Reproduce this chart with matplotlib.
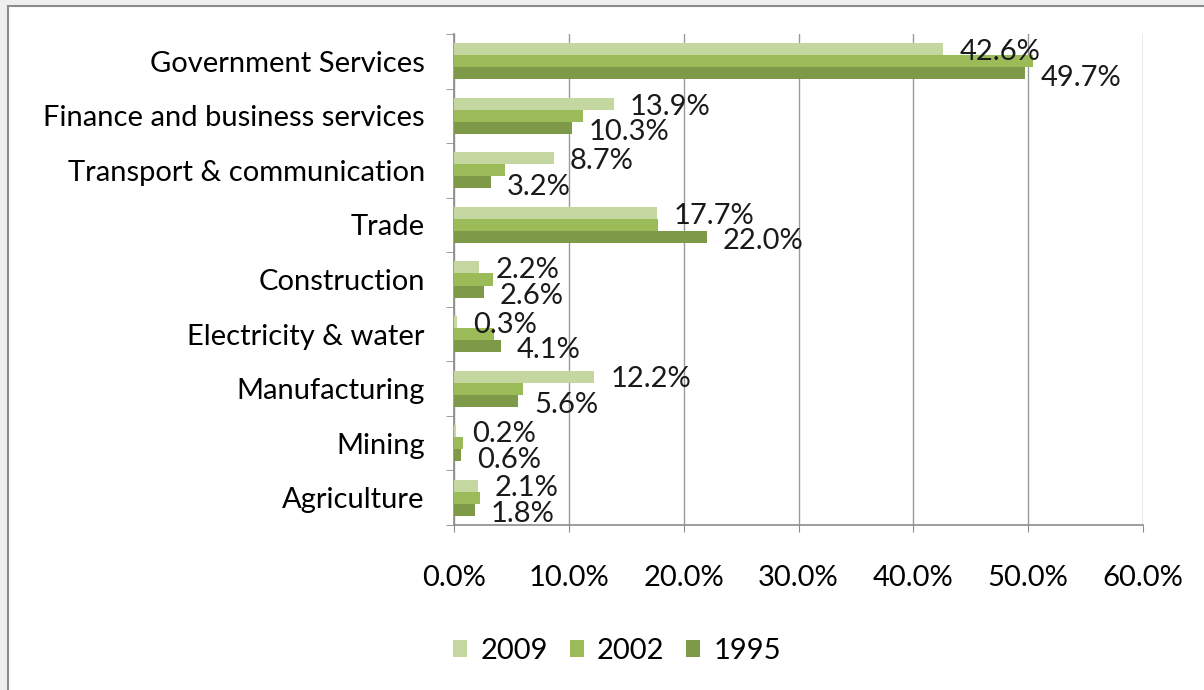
import matplotlib.pyplot as plt
import numpy as np
from matplotlib.patches import Rectangle

plt.rcParams['font.family'] = ['Lato', 'DejaVu Sans']

# categories listed bottom to top (barh draws from y=0 upward)
sectors = ['Agriculture', 'Mining', 'Manufacturing', 'Electricity & water',
           'Construction', 'Trade', 'Transport & communication',
           'Finance and business services', 'Government Services']
years = ['2009', '2002', '1995']
share_2009 = [2.1, 0.2, 12.2, 0.3, 2.2, 17.7, 8.7, 13.9, 42.6]
share_2002 = [2.3, 0.8, 6.0, 3.5, 3.4, 17.8, 4.4, 11.2, 50.4]
share_1995 = [1.8, 0.6, 5.6, 4.1, 2.6, 22.0, 3.2, 10.3, 49.7]
colors = ['#C4D7A0', '#9BBB59', '#7E9A48']
fs = 21

fig = plt.figure(figsize=(12.04, 6.9), dpi=100)
fig.patch.set_facecolor('#EFEFEF')
# white chart frame (right and bottom edges run off the picture)
fig.patches.append(Rectangle((8 / 1204, -0.05), 1.0, 1.05 - 6 / 690,
                             transform=fig.transFigure, facecolor='white',
                             edgecolor='#8C8C8C', linewidth=1.5, zorder=-1))

ax = fig.add_axes([454 / 1204, 1 - 525 / 690, 689 / 1204, 491 / 690])
ax.set_facecolor('white')

y = np.arange(len(sectors))
h = 0.22
series = [share_2009, share_2002, share_1995]
for i, (vals, yr, col) in enumerate(zip(series, years, colors)):
    ax.barh(y + (1 - i) * h, vals, height=h, color=col, label=yr, zorder=3)

# data labels only for 2009 and 1995, as in the original
for k in range(len(sectors)):
    ax.text(share_2009[k] + 1.4, y[k] + h - 0.05, f'{share_2009[k]:.1f}%',
            va='center', ha='left', fontsize=fs, color='#1A1A1A', zorder=4)
    ax.text(share_1995[k] + 1.4, y[k] - h - 0.08, f'{share_1995[k]:.1f}%',
            va='center', ha='left', fontsize=fs, color='#1A1A1A', zorder=4)

ax.set_xlim(0, 60)
ax.set_ylim(-0.5, len(sectors) - 0.5)
ax.set_xticks(np.arange(0, 61, 10))
ax.set_xticklabels([f'{v:.1f}%' for v in range(0, 61, 10)], fontsize=fs)
ax.set_yticks(y)
ax.set_yticklabels(sectors, fontsize=fs)
ax.set_yticks(np.arange(-0.5, len(sectors), 1), minor=True)
ax.tick_params(axis='y', which='major', length=0, pad=21)
ax.tick_params(axis='y', which='minor', length=6, color='#8C8C8C', direction='out')
ax.tick_params(axis='x', which='major', length=5, color='#8C8C8C', pad=24)
ax.grid(axis='x', color='#9A9A9A', linewidth=1, zorder=0)

for side in ['top', 'right']:
    ax.spines[side].set_visible(False)
for side in ['left', 'bottom']:
    ax.spines[side].set_color('#8C8C8C')
    ax.spines[side].set_linewidth(1.2)

handles, labels = ax.get_legend_handles_labels()
fig.legend(handles, labels, loc='center', bbox_to_anchor=(617 / 1204, 1 - 651 / 690),
           ncol=3, frameon=False, fontsize=fs, handlelength=0.48, handleheight=0.5,
           handletextpad=0.45, columnspacing=0.75)

fig.savefig('out.png', dpi=100)
